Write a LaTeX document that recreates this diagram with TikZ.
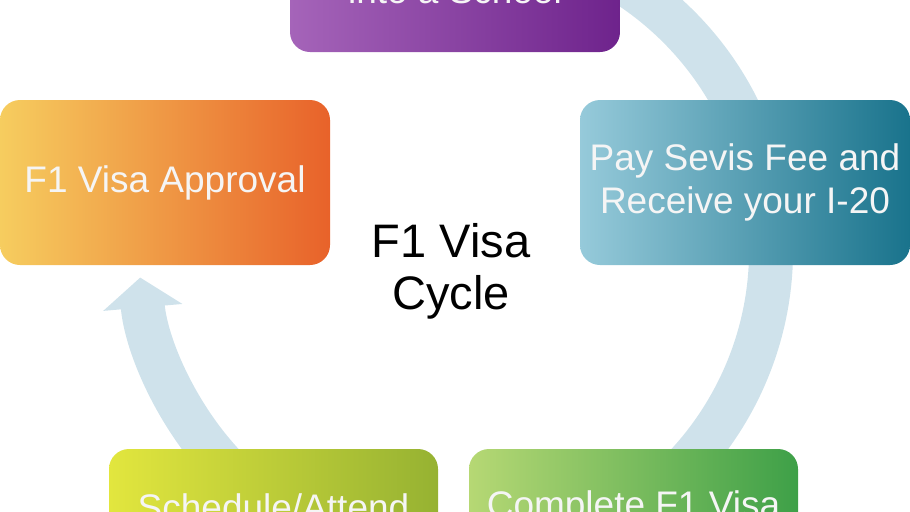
\documentclass[tikz,border=0pt]{standalone}
\usepackage{fontspec}
\setmainfont{Liberation Sans}
\usepackage{xcolor}
\usepackage{tikz}
\usetikzlibrary{arrows.meta}

\definecolor{bandblue}{RGB}{207,226,235}
\definecolor{purpleL}{RGB}{165,100,185}
\definecolor{purpleR}{RGB}{110,35,140}
\definecolor{orangeL}{RGB}{246,205,95}
\definecolor{orangeR}{RGB}{232,98,42}
\definecolor{tealL}{RGB}{150,202,218}
\definecolor{tealR}{RGB}{25,115,140}
\definecolor{limeL}{RGB}{226,230,62}
\definecolor{limeR}{RGB}{150,178,50}
\definecolor{greenL}{RGB}{182,216,116}
\definecolor{greenR}{RGB}{62,160,72}

\tikzset{
    stepbox/.style = {rounded corners=10pt, inner sep=0pt, text=white!96!black,
        minimum width=165pt, align=center,
        font=\fontsize{18.5}{21.5}\selectfont},
    cycle arrow/.style = {bandblue, line width=22pt,
        -{Triangle[width=39pt, length=15pt]}}
}

\begin{document}
\begin{tikzpicture}[x=0.5pt, y=0.5pt]
            \useasboundingbox (0,0) rectangle (910,511);
            \clip (0,0) rectangle (910,511);

            % the big arrow round the cycle
            \coordinate (mid) at (455,261);
            \draw[cycle arrow] (mid) ++(100:158pt) arc[start angle=100, end angle=-175, radius=158pt];

            \node[stepbox, minimum height=61.5pt, left color=purpleL, right color=purpleR]
                (school) at (455,520.5) {into a School};
            \node[stepbox, minimum height=82.5pt, left color=tealL, right color=tealR]
                (sevis) at (745,328.5) {Pay Sevis Fee and\\Receive your I-20};
            \node[stepbox, minimum width=164.5pt, minimum height=58.5pt, left color=greenL, right color=greenR]
                (form) at (633.5,3.5) {Complete F1 Visa};
            \node[stepbox, minimum width=164.5pt, minimum height=58.5pt, left color=limeL, right color=limeR]
                (interview) at (273.5,3.5) {Schedule/Attend};
            \node[stepbox, minimum height=82.5pt, left color=orangeL, right color=orangeR]
                (approval) at (165,328.5) {F1 Visa Approval};

            \node[align=center, font=\fontsize{23.5}{26}\selectfont] (title) at (451,240) {F1 Visa\\Cycle};
        \end{tikzpicture}
\end{document}
